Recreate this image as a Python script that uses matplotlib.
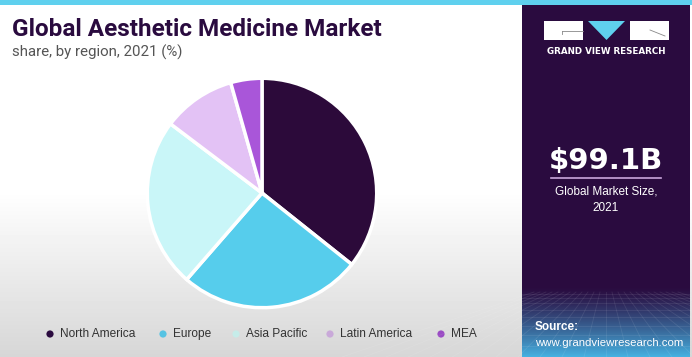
import numpy as np
import matplotlib.pyplot as plt
from matplotlib.patches import Rectangle, Polygon, Circle

regions = ['North America', 'Europe', 'Asia Pacific', 'Latin America', 'MEA']
shares = [35.7, 25.7, 23.9, 10.3, 4.4]
colors = ['#2c0a3a', '#56cdec', '#c9f6f8', '#e3c2f5', '#a956d9']
legend_colors = ['#2a0b3f', '#56c3e3', '#c6ece9', '#c9a9d9', '#9a4cc4']

market_size = '$99.1B'
W, H = 692, 357
fig = plt.figure(figsize=(W / 100, H / 100), dpi=100)

# background gradient (white to light grey)
bg = fig.add_axes([0, 0, 1, 1])
bg.set_xlim(0, W)
bg.set_ylim(H, 0)
bg.axis('off')
grad = np.ones((H, 1))
rows = np.arange(H)
grad[:, 0] = np.clip(1 - (rows - 190) / 167 * 0.16, 0.84, 1.0)
bg.imshow(grad, cmap='gray', vmin=0, vmax=1, extent=[0, W, H, 0], aspect='auto')

# top cyan stripe
bg.add_patch(Rectangle((0, 0), W, 4.5, color='#5fd0ee', lw=0))

# right panel
bg.add_patch(Rectangle((522, 4.5), 168, H - 4.5, color='#2a0b3f', lw=0))
pg = np.zeros((70, 1, 3))
t = np.linspace(0, 1, 70)[:, None] ** 1.2
top_c = np.array([0x2a, 0x0b, 0x3f]) / 255
bot_c = np.array([0x45, 0xb0, 0xe0]) / 255
pg[:, 0, :] = top_c * (1 - t) + bot_c * t
bg.imshow(pg, extent=[522, 690, H, H - 70], aspect='auto', zorder=2)
# faint perspective grid
for k in range(-12, 13):
    bg.plot([606 + k * 6, 606 + k * 22], [H - 65, H], color='white', alpha=0.09, lw=0.6, zorder=3)
for j in range(1, 10):
    yy = H - 65 + 65 * (j / 9) ** 1.6
    bg.plot([522, 690], [yy, yy], color='white', alpha=0.09, lw=0.6, zorder=3)
bg.set_xlim(0, W)
bg.set_ylim(H, 0)

# logo
bg.add_patch(Rectangle((544, 21), 39, 19, color='white', lw=0, zorder=4))
bg.add_patch(Rectangle((630, 21), 39, 19, color='white', lw=0, zorder=4))
bg.add_patch(Polygon([(588, 21), (625, 21), (606.5, 40)], color='#5fd0ee', lw=0, zorder=4))
bg.plot([562, 583], [31, 31], color='#888888', lw=0.6, zorder=5)
bg.plot([562, 562], [31, 34], color='#888888', lw=0.6, zorder=5)
bg.plot([650, 665], [30, 36], color='#888888', lw=0.6, zorder=5)
bg.text(606.5, 52, 'GRAND VIEW RESEARCH', color='white', fontsize=6.3, fontweight='bold',
        ha='center', va='center', family='DejaVu Sans', zorder=5)

# market size
bg.text(606, 161, market_size, color='white', fontsize=21, fontweight='bold',
        ha='center', va='center', family='DejaVu Sans', zorder=5)
bg.plot([551, 661], [178, 178], color='#c9a6dc', lw=1.2, zorder=5)
bg.text(606, 192, 'Global Market Size,', color='white', fontsize=8.5,
        ha='center', va='center', family='Liberation Sans', zorder=5)
bg.text(606, 208, '2021', color='white', fontsize=8.5,
        ha='center', va='center', family='Liberation Sans', zorder=5)
bg.text(535, 327, 'Source:', color='white', fontsize=8.5, fontweight='bold',
        ha='left', va='center', family='Liberation Sans', zorder=5)
bg.text(535, 343, 'www.grandviewresearch.com', color='white', fontsize=8.2,
        ha='left', va='center', family='Liberation Sans', zorder=5)

# title
bg.text(12, 29, 'Global Aesthetic Medicine Market', color='#2a0b3f', fontsize=17.5,
        fontweight='bold', ha='left', va='center', family='Roboto')
bg.text(12, 52, 'share, by region, 2021 (%)', color='#555555', fontsize=10.8,
        ha='left', va='center', family='Roboto')

# legend
leg_dot_x = [50, 163, 236, 330, 441]
for name, c, x in zip(regions, legend_colors, leg_dot_x):
    bg.add_patch(Circle((x, 334), 3.6, color=c, lw=0))
    bg.text(x + 10, 334, name, color='#333333', fontsize=8.6, ha='left', va='center',
            family='Liberation Sans')

# pie
cx, cy, r = 262, 193, 117
pax = fig.add_axes([(cx - r) / W, 1 - (cy + r) / H, 2 * r / W, 2 * r / H])
pax.pie(shares, colors=colors, startangle=90, counterclock=False, radius=1,
        wedgeprops=dict(edgecolor='white', linewidth=2.5))
pax.set_xlim(-1.02, 1.02)
pax.set_ylim(-1.02, 1.02)
pax.axis('off')

fig.savefig('out.png', dpi=100)
